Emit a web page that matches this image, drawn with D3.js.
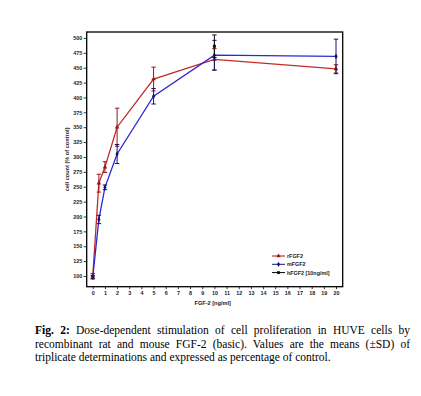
<!DOCTYPE html>
<html><head><meta charset="utf-8">
<script src="https://cdn.jsdelivr.net/npm/d3@7"></script>
<style>
body{margin:0;background:#fff;}
#wrap{position:relative;width:421px;height:396px;overflow:hidden;}
.cap{position:absolute;left:35px;width:375px;font-family:"Liberation Serif","Times New Roman",serif;font-size:11.5px;line-height:13px;color:#000;white-space:nowrap;}
.j{text-align:justify;text-align-last:justify;white-space:normal;}
</style></head>
<body><div id="wrap"></div>
<script>
const doses = [0, 0.5, 1, 2, 5, 10, 20];
const rFGF2 = [100, 256, 283, 350, 431, 464, 448];
const rSD = [4, 15, 9, 32, 20, 18, 7];
const mFGF2 = [98, 195, 249, 305, 402, 471, 469];
const mSD = [3, 7, 4, 16, 13, 25, 29];
const hDose = [10];
const hFGF2 = [486];
const hSD = [19];
const xTicks = d3.range(0, 21, 1);
const yTicks = d3.range(100, 501, 25);
const legendLabels = ["rFGF2", "mFGF2", "hFGF2 [10ng/ml]"];
const captionLines = [
  ["Fig. 2:", " Dose-dependent stimulation of cell proliferation in HUVE cells by"],
  ["", "recombinant rat and mouse FGF-2 (basic). Values are the means (\u00b1SD) of"],
  ["", "triplicate determinations and expressed as percentage of control."]
];

const W = 421, H = 396;
const wrap = d3.select("#wrap");
const svg = wrap.append("svg").attr("width", W).attr("height", H).style("position","absolute").style("left",0).style("top",0);
const L = 86.7, R = 342.7, T = 32, B = 286.7;
const x = d3.scaleLinear().domain([-0.5, 20.55]).range([L, R]);
const y = d3.scaleLinear().domain([82, 510]).range([B, T]);
const font = "'Liberation Sans', Arial, sans-serif";

svg.append("rect").attr("x", L).attr("y", T).attr("width", R - L).attr("height", B - T)
  .attr("fill", "none").attr("stroke", "#000").attr("stroke-width", 1.3);

const yAxis = svg.append("g").attr("transform", `translate(${L},0)`)
  .call(d3.axisLeft(y).tickValues(yTicks).tickSize(3).tickPadding(1.5));
const xAxis = svg.append("g").attr("transform", `translate(0,${B})`)
  .call(d3.axisBottom(x).tickValues(xTicks).tickSize(2.5).tickPadding(2));
[yAxis, xAxis].forEach(g => {
  g.select(".domain").remove();
  g.selectAll("line").attr("stroke", "#000").attr("stroke-width", 0.8);
  g.selectAll("text").attr("font-family", font).attr("font-size", 5.4).attr("font-weight", "bold").attr("fill", "#222");
});

svg.append("text").attr("x", (L + R) / 2 - 2).attr("y", 305).attr("text-anchor", "middle")
  .attr("font-family", font).attr("font-size", 5.6).attr("font-weight", "bold").attr("fill", "#222")
  .text("FGF-2 [ng/ml]");
svg.append("text").attr("transform", `translate(69,${(T + B) / 2}) rotate(-90)`).attr("text-anchor", "middle")
  .attr("font-family", font).attr("font-size", 5.6).attr("font-weight", "bold").attr("fill", "#222")
  .text("cell count (% of control)");

const series = [
  {v: rFGF2, sd: rSD, d: doses, line: "#c42a2a", err: "#9a1515", sym: d3.symbolTriangle},
  {v: mFGF2, sd: mSD, d: doses, line: "#2a2ad0", err: "#14146e", sym: d3.symbolDiamond},
  {v: hFGF2, sd: hSD, d: hDose, line: "#000", err: "#111", sym: d3.symbolSquare}
];
const lineGen = d3.line();
series.forEach(s => {
  const pts = s.d.map((d, i) => [x(d), y(s.v[i])]);
  if (pts.length > 1)
    svg.append("path").attr("d", lineGen(pts)).attr("fill", "none").attr("stroke", s.line).attr("stroke-width", 1.3);
  const g = svg.append("g");
  s.d.forEach((d, i) => {
    const cx = x(d), lo = y(s.v[i] - s.sd[i]), hi = y(s.v[i] + s.sd[i]);
    g.append("line").attr("x1", cx).attr("x2", cx).attr("y1", lo).attr("y2", hi).attr("stroke", s.err).attr("stroke-width", 1);
    [lo, hi].forEach(yy => g.append("line").attr("x1", cx - 2.2).attr("x2", cx + 2.2).attr("y1", yy).attr("y2", yy).attr("stroke", s.err).attr("stroke-width", 1));
    g.append("path").attr("d", d3.symbol().type(s.sym).size(9)()).attr("transform", `translate(${cx},${y(s.v[i])})`).attr("fill", s.err);
  });
});

const lg = svg.append("g");
legendLabels.forEach((lab, i) => {
  const yy = 256 + i * 8.3;
  const s = series[i];
  lg.append("line").attr("x1", 272).attr("x2", 285).attr("y1", yy).attr("y2", yy).attr("stroke", s.line === "#000" ? "#000" : s.err).attr("stroke-width", 1);
  lg.append("path").attr("d", d3.symbol().type(s.sym).size(8)()).attr("transform", `translate(278.5,${yy})`).attr("fill", s.err);
  lg.append("text").attr("x", 287).attr("y", yy + 1.9).attr("font-family", font).attr("font-size", 5.4).attr("font-weight", "bold").attr("fill", "#222").text(lab);
});

captionLines.forEach((ln, i) => {
  const div = wrap.append("div").attr("class", "cap" + (i < 2 ? " j" : "")).style("top", (324 + i * 13.5) + "px");
  if (ln[0]) div.append("b").text(ln[0]);
  div.append("span").text(ln[1]);
});
</script></body></html>
